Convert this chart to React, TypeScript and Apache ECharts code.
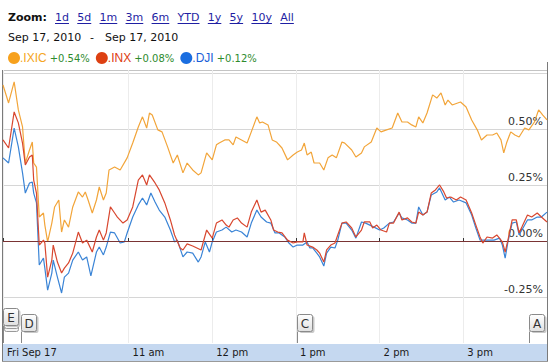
import React, { useEffect, useRef } from 'react';
import * as echarts from 'echarts';

// minutes after 9:30 am
const ixicTimes = [0, 4, 8, 11, 14, 16, 19, 21, 22, 24, 26, 29, 30, 32, 35, 37, 40, 42, 44, 47, 50, 54, 57, 59, 61, 64, 67, 69, 72, 74, 76, 80, 84, 89, 93, 97, 100, 103, 105, 107, 111, 114, 118, 122, 125, 129, 132, 136, 140, 142, 146, 150, 153, 155, 159, 162, 165, 167, 171, 175, 178, 182, 184, 186, 190, 193, 196, 200, 204, 208, 211, 214, 216, 218, 221, 223, 227, 230, 233, 236, 239, 243, 245, 250, 253, 257, 259, 264, 268, 271, 275, 279, 283, 286, 290, 293, 296, 298, 301, 304, 308, 311, 314, 317, 319, 322, 326, 328, 332, 336, 340, 343, 347, 351, 354, 357, 359, 361, 364, 367, 370, 374, 377, 381, 384, 387, 390];
const ixicValues = [0.696, 0.616, 0.71, 0.585, 0.509, 0.348, 0.406, 0.442, 0.348, 0.33, 0.107, 0.125, 0.071, -0.004, 0.08, 0.152, 0.183, 0.04, 0.094, 0.062, 0.152, 0.219, 0.196, 0.219, 0.183, 0.125, 0.183, 0.241, 0.183, 0.214, 0.317, 0.33, 0.317, 0.371, 0.437, 0.509, 0.554, 0.504, 0.571, 0.562, 0.496, 0.487, 0.42, 0.348, 0.384, 0.304, 0.348, 0.317, 0.295, 0.304, 0.393, 0.362, 0.429, 0.437, 0.451, 0.451, 0.429, 0.464, 0.451, 0.437, 0.487, 0.554, 0.527, 0.531, 0.518, 0.451, 0.442, 0.415, 0.362, 0.384, 0.397, 0.406, 0.437, 0.384, 0.397, 0.348, 0.348, 0.317, 0.371, 0.384, 0.371, 0.442, 0.437, 0.406, 0.375, 0.393, 0.42, 0.442, 0.504, 0.487, 0.496, 0.504, 0.571, 0.531, 0.531, 0.518, 0.509, 0.554, 0.527, 0.571, 0.652, 0.638, 0.661, 0.607, 0.629, 0.607, 0.616, 0.62, 0.598, 0.54, 0.496, 0.451, 0.473, 0.473, 0.482, 0.451, 0.393, 0.437, 0.487, 0.473, 0.464, 0.504, 0.496, 0.531, 0.585, 0.562, 0.54];

const inxTimes = [0, 4, 8, 11, 14, 16, 19, 21, 22, 24, 26, 29, 30, 32, 35, 36, 39, 42, 44, 47, 50, 54, 57, 60, 64, 67, 69, 72, 74, 77, 80, 82, 86, 89, 93, 97, 100, 103, 105, 109, 112, 116, 120, 123, 127, 129, 132, 136, 139, 142, 146, 150, 153, 157, 160, 162, 165, 168, 171, 175, 178, 182, 185, 188, 192, 194, 197, 200, 204, 208, 211, 215, 216, 218, 222, 225, 227, 230, 232, 235, 238, 240, 243, 246, 250, 253, 257, 259, 263, 265, 268, 271, 275, 277, 280, 284, 286, 290, 293, 296, 298, 301, 304, 307, 310, 313, 316, 318, 321, 325, 328, 332, 336, 339, 342, 344, 347, 351, 354, 358, 360, 362, 365, 368, 370, 372, 376, 379, 383, 386, 390];
const inxValues = [0.451, 0.415, 0.576, 0.527, 0.437, 0.339, 0.375, 0.384, 0.272, 0.214, -0.018, 0.004, -0.009, -0.161, -0.085, -0.018, -0.094, -0.143, -0.121, -0.098, -0.054, 0.04, -0.009, 0.004, -0.049, 0.018, 0.049, 0.004, 0.036, 0.152, 0.125, 0.107, 0.08, 0.094, 0.152, 0.272, 0.295, 0.25, 0.295, 0.259, 0.228, 0.17, 0.094, 0.027, -0.031, -0.04, -0.013, -0.022, -0.031, -0.04, 0.049, 0.013, 0.08, 0.094, 0.071, 0.062, 0.094, 0.103, 0.08, 0.062, 0.129, 0.183, 0.129, 0.138, 0.094, 0.049, 0.04, 0.036, 0.004, -0.009, -0.004, -0.004, 0.036, -0.018, -0.027, -0.04, -0.054, -0.094, -0.04, -0.018, -0.009, 0.027, 0.08, 0.085, 0.058, 0.018, 0.049, 0.085, 0.085, 0.058, 0.071, 0.049, 0.04, 0.08, 0.08, 0.129, 0.094, 0.103, 0.085, 0.08, 0.129, 0.116, 0.129, 0.214, 0.228, 0.25, 0.219, 0.192, 0.196, 0.183, 0.196, 0.183, 0.125, 0.071, 0.018, -0.009, 0.018, 0.013, 0.027, -0.004, -0.049, 0.004, 0.094, 0.094, 0.036, 0.062, 0.116, 0.107, 0.125, 0.107, 0.085];

const djiTimes = [0, 4, 8, 11, 14, 16, 19, 21, 22, 24, 26, 29, 30, 32, 35, 36, 39, 42, 44, 47, 50, 54, 57, 60, 63, 67, 69, 72, 74, 77, 80, 84, 87, 89, 93, 97, 100, 103, 106, 109, 112, 116, 120, 123, 125, 129, 132, 136, 140, 142, 145, 148, 150, 153, 157, 160, 164, 167, 171, 175, 178, 182, 185, 189, 192, 195, 198, 202, 205, 208, 211, 215, 218, 220, 222, 225, 227, 230, 232, 235, 238, 240, 243, 246, 250, 253, 257, 260, 263, 266, 270, 273, 277, 280, 284, 286, 290, 293, 296, 298, 301, 304, 307, 311, 313, 317, 320, 323, 327, 332, 336, 339, 342, 345, 348, 352, 356, 358, 360, 362, 365, 368, 370, 372, 376, 379, 383, 386, 390];
const djiValues = [0.371, 0.348, 0.504, 0.42, 0.304, 0.214, 0.259, 0.263, 0.214, 0.17, -0.107, -0.076, -0.121, -0.219, -0.143, -0.085, -0.161, -0.232, -0.161, -0.143, -0.085, -0.049, -0.085, -0.071, -0.156, -0.049, -0.027, -0.062, -0.027, 0.04, 0.036, -0.009, -0.004, 0.036, 0.107, 0.161, 0.192, 0.161, 0.214, 0.174, 0.138, 0.107, 0.049, -0.004, 0.004, -0.071, -0.049, -0.054, -0.094, -0.071, -0.004, -0.049, -0.004, 0.04, 0.049, 0.062, 0.04, 0.049, 0.04, 0.018, 0.08, 0.138, 0.107, 0.085, 0.08, 0.036, 0.036, 0.018, -0.009, -0.027, -0.018, -0.018, -0.004, -0.031, -0.031, -0.054, -0.071, -0.112, -0.054, -0.027, -0.031, 0.004, 0.08, 0.08, 0.049, 0.013, 0.085, 0.08, 0.071, 0.062, 0.049, 0.058, 0.08, 0.085, 0.125, 0.103, 0.094, 0.08, 0.08, 0.152, 0.116, 0.129, 0.205, 0.219, 0.237, 0.183, 0.196, 0.174, 0.183, 0.17, 0.116, 0.058, 0.004, 0.004, 0.004, 0.004, 0.013, -0.018, -0.076, -0.004, 0.08, 0.085, 0.027, 0.049, 0.094, 0.094, 0.107, 0.107, 0.129];

const seriesNames = ['.IXIC', '.INX', '.DJI'];
const seriesChanges = ['+0.54%', '+0.08%', '+0.12%'];

const xTickMinutes = [0, 90, 150, 210, 270, 330];
const xTickLabels = ['Fri Sep 17', '11 am', '12 pm', '1 pm', '2 pm', '3 pm'];
const yGridValues = [-0.25, 0, 0.25, 0.5, 0.75];
const yLabelValues = [-0.25, 0, 0.25, 0.5];

const flagTimes = [0, 13, 211, 377];
const flagLetters = ['E', 'D', 'C', 'A'];
const flagStack = [2, 0, 0, 0];

const zoomLinks = ['1d', '5d', '1m', '3m', '6m', 'YTD', '1y', '5y', '10y', 'All'];
const dateRange = ['Sep 17, 2010', '-', 'Sep 17, 2010'];

const zip = (t: number[], v: number[]) => t.map((x, i) => [x, v[i]]);

const ORANGE = '#f2a53a';
const RED = '#d8472f';
const BLUE = '#3a84d6';
const DOT_COLORS = ['#f7a11d', '#dd4012', '#1b6ee0'];
const NAME_COLORS = ['#f5a623', '#dd3c10', '#1a5ed8'];
const GREEN = '#2e8b2e';

export default function App() {
  const ref = useRef<HTMLDivElement>(null);
  useEffect(() => {
    if (!ref.current) return;
    const chart = echarts.init(ref.current, null, { renderer: 'svg' });

    const canvas = document.createElement('canvas');
    const ctx = canvas.getContext('2d')!;
    const measure = (t: string, font: string) => {
      ctx.font = font;
      return ctx.measureText(t).width;
    };

    const linkFont = '11px "DejaVu Sans"';
    const linkEls: any[] = [];
    let lx = 55;
    zoomLinks.forEach((l) => {
      const w = measure(l, linkFont);
      linkEls.push({
        type: 'text', x: lx, y: 17,
        style: { text: l, fill: '#1f1fa3', font: linkFont, verticalAlign: 'middle' },
      });
      linkEls.push({
        type: 'line', shape: { x1: lx, y1: 23.5, x2: lx + w, y2: 23.5 },
        style: { stroke: '#1f1fa3', lineWidth: 1 },
      });
      lx += w + 8.3;
    });

    const nameFont = '12px "Liberation Sans"';
    const pctFont = '10px "DejaVu Sans"';
    const legendEls: any[] = [];
    let gx = 8;
    seriesNames.forEach((n, i) => {
      legendEls.push({ type: 'circle', shape: { cx: gx + 6, cy: 58, r: 6 }, style: { fill: DOT_COLORS[i] } });
      const nx = gx + 12;
      const nw = measure(n, nameFont);
      legendEls.push({ type: 'text', x: nx, y: 58, style: { text: n, fill: NAME_COLORS[i], font: nameFont, verticalAlign: 'middle' } });
      const px = nx + nw + 3;
      const pw = measure(seriesChanges[i], pctFont);
      legendEls.push({ type: 'text', x: px, y: 58.5, style: { text: seriesChanges[i], fill: GREEN, font: pctFont, verticalAlign: 'middle' } });
      gx = px + pw + 6;
    });

    const flagGradient = new echarts.graphic.LinearGradient(0, 0, 0, 1, [
      { offset: 0, color: '#ffffff' },
      { offset: 1, color: '#e0e0e0' },
    ]);

    const option: any = {
      animation: false,
      backgroundColor: '#ffffff',
      textStyle: { fontFamily: 'DejaVu Sans' },
      grid: { left: 3, top: 70, width: 544, height: 273 },
      xAxis: {
        type: 'value', min: 0, max: 390,
        axisLine: { show: false },
        axisTick: { show: true, inside: true, length: 3, customValues: xTickMinutes, lineStyle: { color: '#333' } },
        axisLabel: {
          customValues: xTickMinutes,
          formatter: (v: number) => xTickLabels[xTickMinutes.indexOf(v)] ?? '',
          align: 'left', padding: [0, 0, 0, 4], margin: 4, color: '#1a1a1a', fontSize: 10,
        },
        splitLine: { show: true, lineStyle: { color: '#ececec' } },
      },
      yAxis: {
        type: 'value', position: 'right', min: -0.455, max: 0.763,
        axisLine: { show: false },
        axisTick: { show: false, customValues: yGridValues },
        axisLabel: {
          inside: true, customValues: yLabelValues,
          formatter: (v: number) => v.toFixed(2) + '%',
          verticalAlign: 'bottom', margin: 4, padding: [0, 0, 2, 0], color: '#333', fontSize: 11,
        },
        splitLine: { show: true, lineStyle: { color: '#d6d6d6' } },
      },
      series: [
        {
          name: seriesNames[0], type: 'line', data: zip(ixicTimes, ixicValues), symbol: 'none',
          lineStyle: { color: ORANGE, width: 1.2 }, itemStyle: { color: ORANGE }, z: 3,
          markLine: {
            silent: true, symbol: 'none', label: { show: false },
            lineStyle: { color: '#7a3434', width: 1, type: 'solid' },
            data: [{ yAxis: 0 }],
          },
        },
        {
          name: seriesNames[2], type: 'line', data: zip(djiTimes, djiValues), symbol: 'none',
          lineStyle: { color: BLUE, width: 1.2 }, itemStyle: { color: BLUE }, z: 4,
        },
        {
          name: seriesNames[1], type: 'line', data: zip(inxTimes, inxValues), symbol: 'none',
          lineStyle: { color: RED, width: 1.2 }, itemStyle: { color: RED }, z: 5,
        },
        {
          type: 'custom', z: 6, clip: false, silent: true,
          data: flagTimes.map((t) => [t, -0.455]),
          renderItem: (params: any, api: any) => {
            const i = params.dataIndex;
            const p = api.coord([api.value(0), api.value(1)]);
            const x = Math.round(p[0]) + 0.5;
            const yb = Math.round(p[1]);
            const stack = flagStack[i];
            const bottom = yb - 12 - stack * 3 + 0.5;
            const top = bottom - 17;
            const children: any[] = [
              { type: 'line', shape: { x1: x, y1: bottom, x2: x, y2: yb }, style: { stroke: '#888', lineWidth: 1 } },
            ];
            for (let k = stack; k >= 1; k--) {
              children.push({
                type: 'rect', shape: { x: x + 1, y: bottom - 15 + k * 3, width: 14, height: 15, r: 2 },
                style: { fill: '#f4f4f4', stroke: '#999', lineWidth: 1 },
              });
            }
            children.push(
              { type: 'rect', shape: { x: x + 2, y: top + 1.5, width: 15, height: 17, r: 2 }, style: { fill: '#c8c8c8' } },
              { type: 'rect', shape: { x, y: top, width: 15, height: 17, r: 2 }, style: { fill: flagGradient, stroke: '#8a8a8a', lineWidth: 1 } },
              { type: 'text', x: x + 7.5, y: top + 9, style: { text: flagLetters[i], fill: '#333', font: '12px "DejaVu Sans"', align: 'center', verticalAlign: 'middle' } },
            );
            return { type: 'group', children };
          },
        },
      ],
      graphic: [
        { type: 'rect', z: -10, shape: { x: 3, y: 344, width: 544, height: 17 }, style: { fill: '#c5d8f0' } },
        { type: 'line', shape: { x1: 2, y1: 70.5, x2: 548, y2: 70.5 }, style: { stroke: '#c4c4c4', lineWidth: 1 } },
        { type: 'line', shape: { x1: 2.5, y1: 70, x2: 2.5, y2: 362 }, style: { stroke: '#7a7a7a', lineWidth: 1 } },
        { type: 'line', shape: { x1: 547.5, y1: 62, x2: 547.5, y2: 362 }, style: { stroke: '#7a7a7a', lineWidth: 1 } },
        { type: 'line', shape: { x1: 2, y1: 361.5, x2: 548, y2: 361.5 }, style: { stroke: '#9a9a9a', lineWidth: 1 } },
        { type: 'text', x: 8, y: 17, style: { text: 'Zoom:', fill: '#111', font: 'bold 11px "DejaVu Sans"', verticalAlign: 'middle' } },
        ...linkEls,
        { type: 'text', x: 8, y: 37, style: { text: dateRange[0], fill: '#111', font: '11px "DejaVu Sans"', verticalAlign: 'middle' } },
        { type: 'text', x: 90, y: 37, style: { text: dateRange[1], fill: '#111', font: '11px "DejaVu Sans"', verticalAlign: 'middle' } },
        { type: 'text', x: 105, y: 37, style: { text: dateRange[2], fill: '#111', font: '11px "DejaVu Sans"', verticalAlign: 'middle' } },
        ...legendEls,
      ],
    };
    chart.setOption(option);
    return () => chart.dispose();
  }, []);
  return <div ref={ref} style={{ position: 'fixed', left: 0, top: 0, width: 550, height: 364, background: '#fff' }} />;
}
